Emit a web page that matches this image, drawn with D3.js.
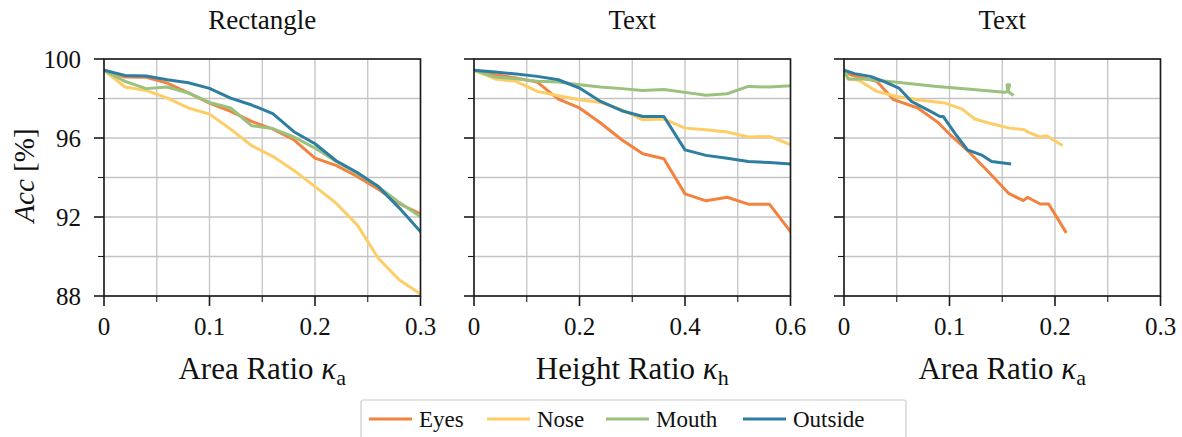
<!DOCTYPE html>
<html>
<head>
<meta charset="utf-8">
<script src="https://cdn.jsdelivr.net/npm/d3@7"></script>
<style>
  html, body { margin: 0; padding: 0; background: #fff; }
  svg { display: block; }
  svg text { font-family: 'Liberation Serif', 'DejaVu Serif', 'Noto Serif', 'Times New Roman', serif; fill: #111; }
</style>
</head>
<body>
<svg id="chart" width="1182" height="437" font-family="Liberation Serif, DejaVu Serif, serif"></svg>
<script>
// ---------------- DATA ----------------
const seriesNames = ["Eyes", "Nose", "Mouth", "Outside"];
const seriesColors = ["#f4823f", "#fdcd66", "#9ac17e", "#2e7ea1"];

const panelTitles = ["Rectangle", "Text", "Text"];
const xLabels = [["Area Ratio ", "κ", "a"], ["Height Ratio ", "κ", "h"], ["Area Ratio ", "κ", "a"]];
const yTickLabels = [88, 92, 96, 100];

// Panel 1: Rectangle, area ratio
const p1X = [0, 0.02, 0.04, 0.06, 0.08, 0.10, 0.12, 0.14, 0.16, 0.18, 0.20, 0.22, 0.24, 0.26, 0.28, 0.30];
const p1Eyes    = [99.43, 99.09, 99.07, 98.78, 98.28, 97.77, 97.35, 96.84, 96.45, 95.91, 94.98, 94.61, 94.05, 93.41, 92.67, 92.16];
const p1Nose    = [99.43, 98.58, 98.41, 98.02, 97.52, 97.21, 96.45, 95.61, 95.07, 94.36, 93.54, 92.70, 91.60, 89.91, 88.81, 88.10];
const p1Mouth   = [99.43, 98.87, 98.50, 98.58, 98.28, 97.80, 97.52, 96.62, 96.48, 96.05, 95.49, 94.81, 94.22, 93.54, 92.73, 92.02];
const p1Outside = [99.43, 99.17, 99.14, 98.95, 98.80, 98.51, 98.02, 97.67, 97.23, 96.32, 95.71, 94.85, 94.25, 93.54, 92.45, 91.26];

// Panel 2: Text, height ratio
const p2X = [0, 0.04, 0.08, 0.12, 0.16, 0.20, 0.24, 0.28, 0.32, 0.36, 0.40, 0.44, 0.48, 0.52, 0.56, 0.60];
const p2Eyes    = [99.43, 99.20, 99.04, 98.83, 97.97, 97.52, 96.76, 95.91, 95.20, 94.95, 93.17, 92.82, 93.00, 92.65, 92.65, 91.26];
const p2Nose    = [99.43, 98.99, 98.87, 98.36, 98.14, 97.94, 97.80, 97.43, 96.92, 96.96, 96.50, 96.42, 96.30, 96.05, 96.08, 95.66];
const p2Mouth   = [99.43, 99.09, 99.00, 98.87, 98.83, 98.70, 98.58, 98.50, 98.41, 98.45, 98.31, 98.17, 98.24, 98.61, 98.58, 98.65];
const p2Outside = [99.43, 99.34, 99.24, 99.12, 98.95, 98.53, 97.85, 97.38, 97.09, 97.09, 95.40, 95.12, 94.98, 94.81, 94.76, 94.68];

// Panel 3: Text, area ratio (irregular x per series)
const p3EyesX    = [0, 0.006, 0.031, 0.047, 0.070, 0.089, 0.099, 0.118, 0.135, 0.156, 0.170, 0.174, 0.186, 0.194, 0.210];
const p3EyesY    = [99.43, 99.20, 98.87, 97.94, 97.52, 96.79, 96.25, 95.32, 94.39, 93.20, 92.83, 93.00, 92.66, 92.66, 91.26];
const p3NoseX    = [0, 0.004, 0.014, 0.031, 0.050, 0.075, 0.096, 0.112, 0.124, 0.138, 0.157, 0.171, 0.175, 0.186, 0.192, 0.206];
const p3NoseY    = [99.43, 98.99, 98.92, 98.36, 98.10, 97.90, 97.77, 97.46, 96.96, 96.75, 96.50, 96.42, 96.28, 96.05, 96.11, 95.66];
const p3MouthX   = [0, 0.004, 0.018, 0.050, 0.088, 0.1225, 0.152, 0.1555, 0.1545, 0.1570, 0.1555, 0.1595];
const p3MouthY   = [99.43, 98.99, 98.99, 98.82, 98.61, 98.45, 98.32, 98.35, 98.69, 98.69, 98.35, 98.20];
const p3OutsideX = [0, 0.010, 0.025, 0.036, 0.052, 0.064, 0.078, 0.091, 0.094, 0.105, 0.117, 0.130, 0.140, 0.157];
const p3OutsideY = [99.43, 99.26, 99.12, 98.90, 98.53, 97.85, 97.46, 97.09, 97.09, 96.25, 95.40, 95.15, 94.81, 94.69];

const panels = [
  { xMax: 0.3, xTicks: [0, 0.05, 0.1, 0.15, 0.2, 0.25, 0.3], xLabeled: [0, 0.1, 0.2, 0.3],
    series: [p1Eyes, p1Nose, p1Mouth, p1Outside].map(ys => p1X.map((x, i) => [x, ys[i]])) },
  { xMax: 0.6, xTicks: [0, 0.1, 0.2, 0.3, 0.4, 0.5, 0.6], xLabeled: [0, 0.2, 0.4, 0.6],
    series: [p2Eyes, p2Nose, p2Mouth, p2Outside].map(ys => p2X.map((x, i) => [x, ys[i]])) },
  { xMax: 0.3, xTicks: [0, 0.05, 0.1, 0.15, 0.2, 0.25, 0.3], xLabeled: [0, 0.1, 0.2, 0.3],
    series: [[p3EyesX, p3EyesY], [p3NoseX, p3NoseY], [p3MouthX, p3MouthY], [p3OutsideX, p3OutsideY]]
      .map(([xs, ys]) => xs.map((x, i) => [x, ys[i]])) }
];
const yTicksAll = [88, 90, 92, 94, 96, 98, 100];

// ---------------- LAYOUT ----------------
const FONT = "'Liberation Serif', 'DejaVu Serif', 'Noto Serif', serif";
const svg = d3.select("#chart");
const panelLeft = [104, 474, 844];
const panelW = 316.5;
const plotTop = 59, plotBottom = 296;
const y = d3.scaleLinear().domain([88, 100]).range([plotBottom, plotTop]);
const fmtX = v => v === 0 ? "0" : d3.format("~g")(v);

panels.forEach((p, pi) => {
  const x0 = panelLeft[pi];
  const x = d3.scaleLinear().domain([0, p.xMax]).range([x0, x0 + panelW]);
  const g = svg.append("g").attr("font-family", FONT);

  // grid
  g.append("g").selectAll("line").data(p.xTicks).join("line")
    .attr("x1", d => x(d)).attr("x2", d => x(d)).attr("y1", plotTop).attr("y2", plotBottom)
    .attr("stroke", "#c4c4c4").attr("stroke-width", 1.3);
  g.append("g").selectAll("line").data(yTicksAll).join("line")
    .attr("x1", x0).attr("x2", x0 + panelW).attr("y1", d => y(d)).attr("y2", d => y(d))
    .attr("stroke", "#c4c4c4").attr("stroke-width", 1.3);

  // data lines
  const line = d3.line().x(d => x(d[0])).y(d => y(d[1]));
  const clipId = "clip" + pi;
  svg.append("clipPath").attr("id", clipId).append("rect")
    .attr("x", x0).attr("y", plotTop - 2).attr("width", panelW).attr("height", plotBottom - plotTop + 4);
  g.append("g").attr("clip-path", `url(#${clipId})`).selectAll("path").data(p.series).join("path")
    .attr("d", line).attr("fill", "none")
    .attr("stroke", (d, i) => seriesColors[i]).attr("stroke-width", 3)
    .attr("stroke-linejoin", "round").attr("stroke-linecap", "square");

  // frame
  g.append("rect").attr("x", x0).attr("y", plotTop).attr("width", panelW).attr("height", plotBottom - plotTop)
    .attr("fill", "none").attr("stroke", "#1a1a1a").attr("stroke-width", 1.6);

  // x axis ticks
  const xAxis = d3.axisBottom(x).tickValues(p.xTicks).tickSize(0).tickFormat("");
  g.append("g").attr("transform", `translate(0,${plotBottom})`).call(xAxis).call(s => s.select(".domain").remove());
  g.append("g").selectAll("line").data(p.xTicks).join("line")
    .attr("x1", d => x(d)).attr("x2", d => x(d)).attr("y1", plotBottom)
    .attr("y2", d => plotBottom + (p.xLabeled.includes(d) ? 10 : 6))
    .attr("stroke", "#1a1a1a").attr("stroke-width", d => p.xLabeled.includes(d) ? 1.6 : 1.1);
  g.append("g").selectAll("text").data(p.xLabeled).join("text")
    .attr("x", d => x(d)).attr("y", 335).attr("text-anchor", "middle")
    .attr("font-family", FONT).attr("font-size", 25).text(fmtX);

  // y axis ticks
  g.append("g").selectAll("line").data(yTicksAll).join("line")
    .attr("x1", x0).attr("x2", d => x0 - (yTickLabels.includes(d) ? 10 : 6))
    .attr("y1", d => y(d)).attr("y2", d => y(d))
    .attr("stroke", "#1a1a1a").attr("stroke-width", d => yTickLabels.includes(d) ? 1.6 : 1.1);
  if (pi === 0) {
    g.append("g").selectAll("text").data(yTickLabels).join("text")
      .attr("x", 81).attr("y", d => y(d) + 8.5).attr("text-anchor", "end")
      .attr("font-family", FONT).attr("font-size", 25).text(d => d);
  }

  // title
  g.append("text").attr("x", x0 + panelW / 2).attr("y", 29).attr("text-anchor", "middle")
    .attr("font-family", FONT).attr("font-size", 27).text(panelTitles[pi]);

  // x label
  const lbl = xLabels[pi];
  const t = g.append("text").attr("x", x0 + panelW / 2).attr("y", 379).attr("text-anchor", "middle")
    .attr("font-family", FONT).attr("font-size", 31);
  t.append("tspan").text(lbl[0]);
  t.append("tspan").attr("font-style", "italic").text(lbl[1]);
  t.append("tspan").attr("font-size", 22).attr("dy", 6).text(lbl[2]);
});

// y label
const yl = svg.append("text").attr("transform", `translate(34,${(plotTop + plotBottom) / 2 - 2}) rotate(-90)`)
  .attr("text-anchor", "middle").attr("font-family", FONT).attr("font-size", 29);
yl.append("tspan").attr("font-style", "italic").text("Acc");
yl.append("tspan").text(" [%]");

// legend
const legendBox = { x: 361, y: 400, w: 545, h: 40 };
const lg = svg.append("g").attr("font-family", FONT);
lg.append("rect").attr("x", legendBox.x).attr("y", legendBox.y).attr("width", legendBox.w).attr("height", legendBox.h)
  .attr("rx", 2).attr("fill", "#fff").attr("stroke", "#cccccc").attr("stroke-width", 1.2);
const legendX = [369, 487, 606, 743];
const item = lg.selectAll("g.item").data(seriesNames).join("g").attr("class", "item")
  .attr("transform", (d, i) => `translate(${legendX[i]},419)`);
item.append("line").attr("x1", 0).attr("x2", 43).attr("y1", 0).attr("y2", 0)
  .attr("stroke", (d, i) => seriesColors[i]).attr("stroke-width", 3);
item.append("text").attr("x", 50).attr("y", 8).attr("font-family", FONT).attr("font-size", 23).text(d => d);
</script>
</body>
</html>
